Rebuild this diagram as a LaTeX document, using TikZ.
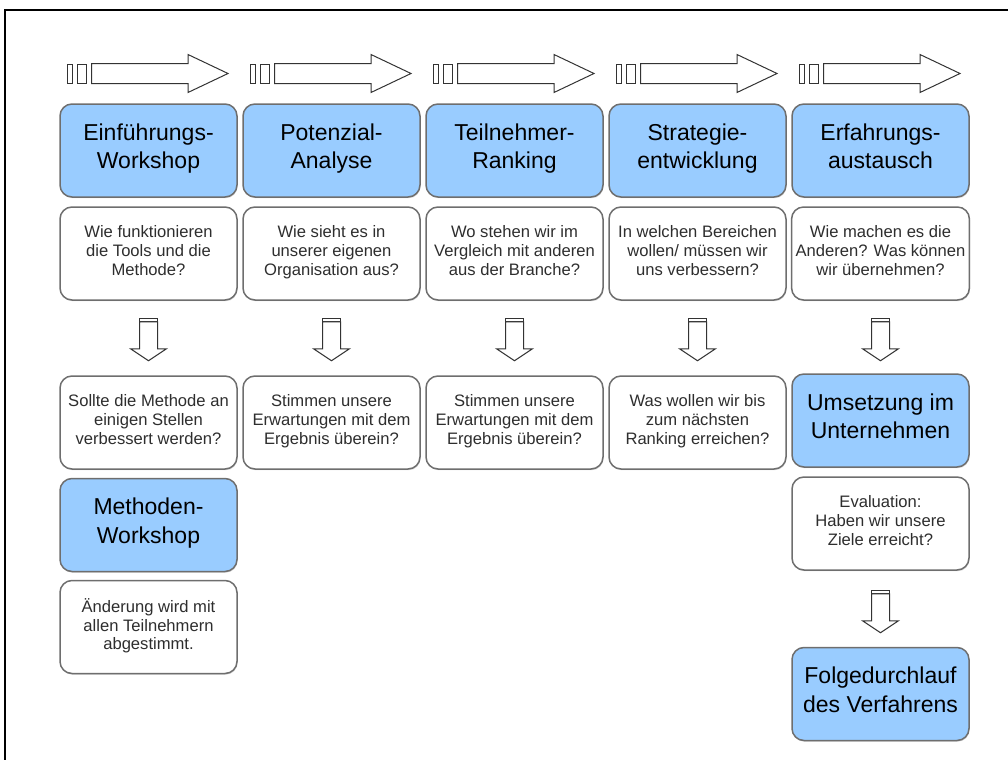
\documentclass[tikz,border=0pt]{standalone}
\usepackage{fontspec}
\setmainfont{Liberation Sans}
\usetikzlibrary{shadows}

\definecolor{phaseblue}{HTML}{99CCFF}
\definecolor{boxgray}{HTML}{6E6E6E}
\definecolor{txtgray}{HTML}{2E2E2E}

\tikzset{
  box/.style={draw=boxgray, line width=0.75pt, rounded corners=6pt,
    minimum width=88.5pt, minimum height=46.5pt, align=center, inner sep=2pt,
    execute at end node=\strut,
    drop shadow={shadow xshift=0.3pt, shadow yshift=-0.6pt, opacity=0.35, fill=gray}},
  phase/.style={box, fill=phaseblue, text=black, font=\fontsize{11.5}{14.4}\selectfont,
    execute at begin node=\strut},
  quest/.style={box, fill=white, text=txtgray, font=\fontsize{8.3}{9.4}\selectfont,
    execute at begin node={\rule{0pt}{12pt}}},
  blockarr/.style={draw=black!80, line width=0.5pt, fill=white},
  % block arrow to the right, origin at left end, middle height
  rarr/.pic={
    \draw[blockarr] (0,-9.5) rectangle (5,9.5);
    \draw[blockarr] (10.5,-9.5) rectangle (19.5,9.5);
    \draw[blockarr] (24.5,-10) -- (121,-10) -- (121,-19) -- (161,0)
      -- (121,19) -- (121,10) -- (24.5,10) -- cycle;
  },
  % block arrow downwards, origin at top middle
  darr/.pic={
    \draw[blockarr] (-9,0) rectangle (9,3);
    \draw[blockarr] (-9,3) -- (-9,30) -- (-18,30) -- (0,42) -- (18,30)
      -- (9,30) -- (9,3) -- cycle;
  }
}

\begin{document}
\begin{tikzpicture}[x=0.5pt, y=-0.5pt]
  \useasboundingbox (0,0) rectangle (1008,760);
  \draw[line width=1pt] (1008,10) -- (4.5,10) -- (4.5,760);

  % process arrows
  \foreach \i in {0,...,4}
    \pic at ({67+183*\i},73.5) {rarr};

  % phases
  \node[phase] (ph1) at (148.5,150.5) {Einführungs-\\Workshop};
  \node[phase] (ph2) at (331.5,150.5) {Potenzial-\\Analyse};
  \node[phase] (ph3) at (514.5,150.5) {Teilnehmer-\\Ranking};
  \node[phase] (ph4) at (697.5,150.5) {Strategie-\\entwicklung};
  \node[phase] (ph5) at (880.5,150.5) {Erfahrungs-\\austausch};

  % questions
  \node[quest] (q1) at (148.5,253.5) {Wie funktionieren\\die Tools und die\\Methode?};
  \node[quest] (q2) at (331.5,253.5) {Wie sieht es in\\unserer eigenen\\Organisation aus?};
  \node[quest] (q3) at (514.5,253.5) {Wo stehen wir im\\Vergleich mit anderen\\aus der Branche?};
  \node[quest] (q4) at (697.5,253.5) {In welchen Bereichen\\wollen/ müssen wir\\uns verbessern?};
  \node[quest] (q5) at (880.5,253.5) {Wie machen es die\\Anderen? Was können\\wir übernehmen?};

  % results
  \node[quest] (r1) at (148.5,422.5) {Sollte die Methode an\\einigen Stellen\\verbessert werden?};
  \node[quest] (r2) at (331.5,422.5) {Stimmen unsere\\Erwartungen mit dem\\Ergebnis überein?};
  \node[quest] (r3) at (514.5,422.5) {Stimmen unsere\\Erwartungen mit dem\\Ergebnis überein?};
  \node[quest] (r4) at (697.5,422.5) {Was wollen wir bis\\zum nächsten\\Ranking erreichen?};
  \node[phase] (r5) at (880.5,420.5) {Umsetzung im\\Unternehmen};

  \node[phase] (mw) at (148.5,525) {Methoden-\\Workshop};
  \node[quest] (aend) at (148.5,627) {Änderung wird mit\\allen Teilnehmern\\abgestimmt.};
  \node[quest] (eval) at (880.5,523.5) {Evaluation:\\Haben wir unsere\\Ziele erreicht?};
  \node[phase] (folge) at (880.5,694) {Folgedurchlauf\\des Verfahrens};

  % down arrows
  \foreach \n in {q1,q2,q3,q4,q5}
    \path (\n.south) ++(0,18) pic {darr};
  \path (eval.south) ++(0,20) pic {darr};
\end{tikzpicture}
\end{document}
